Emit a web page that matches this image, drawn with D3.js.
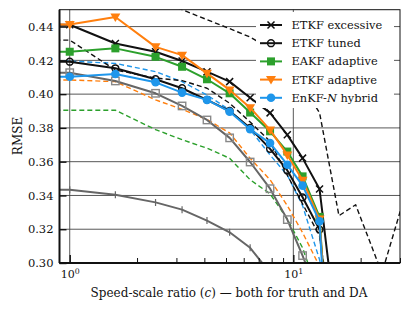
<!DOCTYPE html>
<html>
<head>
<meta charset="utf-8">
<script src="https://cdn.jsdelivr.net/npm/d3@7"></script>
<style>
  body { margin: 0; background: #fff; }
  svg { font-family: "DejaVu Serif", serif; }
</style>
</head>
<body>
<div id="chart"></div>
<script>
// speed-scale ratio grid (the last 3 only reached by one dashed curve)
const cGrid = [0.62, 1, 1.6, 2.42, 3.18, 4.11, 5.19, 6.41, 7.87, 9.4, 11.0, 13.1, 16.0, 19.0, 24.9, 31.0];

const etkfExcessive = [0.4412, 0.4411, 0.430, 0.4251, 0.4196, 0.4133, 0.4074, 0.3979, 0.3889, 0.3759, 0.3621, 0.3438, 0.248];
const etkfTuned     = [0.4193, 0.4192, 0.4153, 0.4088, 0.4035, 0.3966, 0.390, 0.380, 0.3676, 0.3548, 0.3389, 0.3198, 0.20];
const eakfAdaptive  = [0.4252, 0.4251, 0.4271, 0.4221, 0.4162, 0.4088, 0.4005, 0.3891, 0.378, 0.366, 0.3513, 0.3273, 0.15];
const etkfAdaptive  = [0.4413, 0.4412, 0.4457, 0.428, 0.4231, 0.4123, 0.4025, 0.392, 0.3788, 0.364, 0.349, 0.326, 0.15];
const enkfHybrid    = [0.4103, 0.4103, 0.4119, 0.4070, 0.4009, 0.3966, 0.3896, 0.3792, 0.371, 0.3582, 0.3458, 0.3247, 0.12];

// unlabelled reference curves
const graySquares = [0.4128, 0.4127, 0.4078, 0.4005, 0.393, 0.3847, 0.3741, 0.3598, 0.344, 0.3257, 0.3044, 0.278, 0.24];
const grayTicks   = [0.3436, 0.3434, 0.3404, 0.3359, 0.3316, 0.3251, 0.3182, 0.309, 0.2942, 0.27, 0.24, 0.20, 0.15];
const blueDash    = [0.4197, 0.4196, 0.4182, 0.4133, 0.4074, 0.3995, 0.3906, 0.379, 0.364, 0.352, 0.334, 0.302, 0.25];
const orangeDash  = [0.4085, 0.4084, 0.4074, 0.3966, 0.391, 0.385, 0.377, 0.362, 0.3493, 0.334, 0.318, 0.298, 0.25];
const greenDash   = [0.3905, 0.3905, 0.3905, 0.379, 0.373, 0.368, 0.362, 0.3493, 0.341, 0.326, 0.309, 0.28, 0.24];
const blackDashA  = [0.432, 0.432, 0.4143, 0.4095, 0.408, 0.4035, 0.3946, 0.3835, 0.372, 0.352, 0.335, 0.316, 0.24];
const blackDashB  = [0.475, 0.47, 0.462, 0.456, 0.450, 0.4441, 0.4388, 0.4338, 0.427, 0.417, 0.405, 0.389, 0.328, 0.3345, 0.294, 0.3365];

const yTicks = [0.30, 0.32, 0.34, 0.36, 0.38, 0.40, 0.42, 0.44];
const xMajor = [1, 10];
const xMinor = [2, 3, 4, 5, 6, 7, 8, 9, 20, 30];

const W = 411, H = 313;
const mLeft = 59.5, mRight = 400, mTop = 9.7, mBottom = 263;

const svg = d3.select("#chart").append("svg")
  .attr("width", W).attr("height", H);

const x = d3.scaleLog().domain([0.9, 30]).range([mLeft, mRight]);
const y = d3.scaleLinear().domain([0.30, 0.45]).range([mBottom, mTop]);

svg.append("clipPath").attr("id", "plot")
  .append("rect").attr("x", mLeft).attr("y", mTop)
  .attr("width", mRight - mLeft).attr("height", mBottom - mTop);

// grid
const gGrid = svg.append("g").attr("stroke", "#444").attr("stroke-width", 0.9);
gGrid.selectAll("line.h").data(yTicks).join("line")
  .attr("x1", mLeft).attr("x2", mRight)
  .attr("y1", d => y(d)).attr("y2", d => y(d));
gGrid.selectAll("line.v").data(xMajor).join("line")
  .attr("y1", mTop).attr("y2", mBottom)
  .attr("x1", d => x(d)).attr("x2", d => x(d));

const plot = svg.append("g").attr("clip-path", "url(#plot)");

const line = d3.line().x((d, i) => x(cGrid[i])).y(d => y(d));

function drawLine(vals, color, width, dash) {
  plot.append("path").datum(vals)
    .attr("fill", "none")
    .attr("stroke", color)
    .attr("stroke-width", width)
    .attr("stroke-dasharray", dash || null)
    .attr("stroke-linejoin", "round")
    .attr("d", line);
}

function marker(g, kind, color, cx, cy) {
  if (kind === "x") {
    const s = 3.5;
    g.append("path").attr("d", `M${cx - s},${cy - s}L${cx + s},${cy + s}M${cx - s},${cy + s}L${cx + s},${cy - s}`)
      .attr("stroke", color).attr("stroke-width", 1.5);
  } else if (kind === "o") {
    g.append("circle").attr("cx", cx).attr("cy", cy).attr("r", 3.4)
      .attr("fill", "none").attr("stroke", color).attr("stroke-width", 1.5);
  } else if (kind === "s") {
    g.append("rect").attr("x", cx - 4).attr("y", cy - 4).attr("width", 8).attr("height", 8)
      .attr("fill", color);
  } else if (kind === "so") {
    g.append("rect").attr("x", cx - 3.7).attr("y", cy - 3.7).attr("width", 7.4).attr("height", 7.4)
      .attr("fill", "none").attr("stroke", "#888").attr("stroke-width", 1.4);
  } else if (kind === "v") {
    g.append("path").attr("d", `M${cx - 5},${cy - 3.5}L${cx + 5},${cy - 3.5}L${cx},${cy + 5}Z`)
      .attr("fill", color);
  } else if (kind === "c") {
    g.append("circle").attr("cx", cx).attr("cy", cy).attr("r", 4.3).attr("fill", color);
  } else if (kind === "|") {
    g.append("line").attr("x1", cx).attr("x2", cx).attr("y1", cy - 3.5).attr("y2", cy + 3.5)
      .attr("stroke", color).attr("stroke-width", 1.2);
  }
}

function drawMarkers(vals, kind, color) {
  const g = plot.append("g");
  vals.forEach((v, i) => marker(g, kind, color, x(cGrid[i]), y(v)));
}

// dashed references
drawLine(blackDashB, "#111", 1.4, "5,3");
drawLine(greenDash, "#2ca02c", 1.4, "5,3");
drawLine(orangeDash, "#ff7f0e", 1.4, "5,3");
drawLine(blueDash, "#1e96eb", 1.4, "5,3");
drawLine(blackDashA, "#111", 1.4, "5,3");

// gray solid references
drawLine(grayTicks, "#666", 2);
drawMarkers(grayTicks, "|", "#666");
drawLine(graySquares, "#666", 2);
drawMarkers(graySquares, "so", "#888");

const series = [
  { name: "ETKF excessive", vals: etkfExcessive, color: "#111", mk: "x" },
  { name: "ETKF tuned", vals: etkfTuned, color: "#111", mk: "o" },
  { name: "EAKF adaptive", vals: eakfAdaptive, color: "#2ca02c", mk: "s" },
  { name: "ETKF adaptive", vals: etkfAdaptive, color: "#ff7f0e", mk: "v" },
  { name: "EnKF-N hybrid", vals: enkfHybrid, color: "#1e96eb", mk: "c" }
];

series.forEach(s => {
  drawLine(s.vals, s.color, 2);
  drawMarkers(s.vals, s.mk, s.color);
});

// legend
const lg = svg.append("g");
lg.append("rect").attr("x", 256).attr("y", 12).attr("width", 138).attr("height", 96)
  .attr("rx", 3).attr("fill", "#fff");
series.forEach((s, i) => {
  const cy = 25 + i * 18.2;
  lg.append("line").attr("x1", 260).attr("x2", 282).attr("y1", cy).attr("y2", cy)
    .attr("stroke", s.color).attr("stroke-width", 2);
  marker(lg, s.mk, s.color, 271, cy);
  const t = lg.append("text").attr("x", 291.5).attr("y", cy + 4)
    .attr("font-size", 11.4).attr("fill", "#111");
  if (s.name === "EnKF-N hybrid") {
    t.append("tspan").text("EnKF-");
    t.append("tspan").attr("font-style", "italic").text("N");
    t.append("tspan").text(" hybrid");
  } else {
    t.text(s.name);
  }
});

// frame
svg.append("rect").attr("x", mLeft).attr("y", mTop)
  .attr("width", mRight - mLeft).attr("height", mBottom - mTop)
  .attr("fill", "none").attr("stroke", "#111").attr("stroke-width", 1);
svg.append("line").attr("x1", mLeft).attr("x2", mLeft).attr("y1", mTop).attr("y2", mBottom)
  .attr("stroke", "#111").attr("stroke-width", 2);
svg.append("line").attr("x1", mLeft).attr("x2", mRight).attr("y1", mBottom).attr("y2", mBottom)
  .attr("stroke", "#111").attr("stroke-width", 2);

// y axis
const yAxis = svg.append("g").attr("transform", `translate(${mLeft},0)`)
  .call(d3.axisLeft(y).tickValues(yTicks).tickSize(-7).tickPadding(6).tickFormat(d3.format(".2f")));
yAxis.select(".domain").remove();
yAxis.selectAll(".tick line").attr("stroke", "#111").attr("stroke-width", 1.4);
yAxis.selectAll(".tick text").attr("font-size", 11.5).attr("font-family", "DejaVu Serif").attr("fill", "#111");

// x axis
const xAxis = svg.append("g").attr("transform", `translate(0,${mBottom})`)
  .call(d3.axisBottom(x).tickValues(xMajor).tickSize(-8).tickPadding(7).tickFormat(""));
xAxis.select(".domain").remove();
xAxis.selectAll(".tick line").attr("stroke", "#111").attr("stroke-width", 1.4);
xAxis.selectAll(".tick text").each(function (d) {
  const t = d3.select(this).attr("font-size", 11).attr("font-family", "DejaVu Serif").attr("fill", "#111");
  t.append("tspan").text("10");
  t.append("tspan").attr("font-size", 7.8).attr("dy", -4).text(Math.round(Math.log10(d)));
});
const xMinorAxis = svg.append("g").attr("transform", `translate(0,${mBottom})`)
  .call(d3.axisBottom(x).tickValues(xMinor).tickSize(-5).tickFormat(""));
xMinorAxis.select(".domain").remove();
xMinorAxis.selectAll(".tick line").attr("stroke", "#111").attr("stroke-width", 1);

// labels
svg.append("text").attr("transform", "translate(22,136) rotate(-90)")
  .attr("text-anchor", "middle").attr("font-size", 12).attr("fill", "#111").text("RMSE");
const xl = svg.append("text").attr("x", 229).attr("y", 297)
  .attr("text-anchor", "middle").attr("font-size", 12).attr("fill", "#111");
xl.append("tspan").text("Speed-scale ratio (");
xl.append("tspan").attr("font-style", "italic").text("c");
xl.append("tspan").text(") — both for truth and DA");
</script>
</body>
</html>
